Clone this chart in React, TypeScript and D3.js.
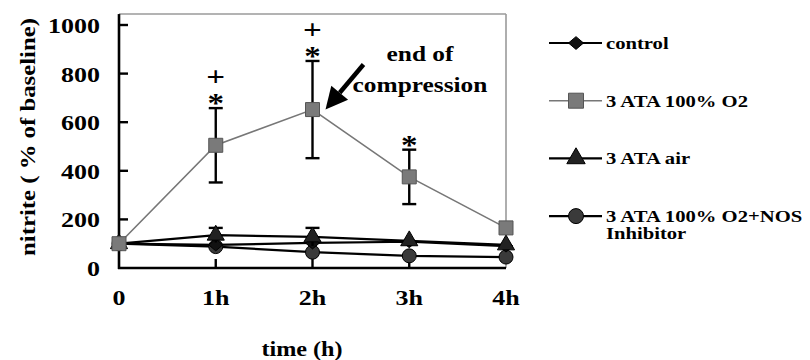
import React from "react";
import * as d3 from "d3";

// time points (hours) and their tick labels
const times = [0, 1, 2, 3, 4];
const timeLabels = ["0", "1h", "2h", "3h", "4h"];
const yTicks = [0, 200, 400, 600, 800, 1000];

// nitrite, % of baseline
const control = [100, 95, 103, 108, 90];
const o2 = [100, 505, 652, 375, 165];
const o2Err = [0, 153, 200, 112, 0];
const air = [100, 135, 128, 112, 95];
const airErr = [0, 30, 37, 0, 0];
const nos = [100, 88, 65, 50, 45];

const starTimes = [1, 2, 3];
const plusTimes = [1, 2];

const W = 810;
const H = 360;
const FONT = "'Liberation Serif', 'Times New Roman', serif";
const SX = 1.18; // the original type is set wide

type Shape = "diamond" | "square" | "triangle" | "circle";

function marker(shape: Shape, r: number) {
  if (shape === "diamond") return `M0,${-r * 0.85}L${r},0L0,${r * 0.85}L${-r},0Z`;
  if (shape === "square") return `M${-r},${-r}H${r}V${r}H${-r}Z`;
  if (shape === "triangle") return d3.symbol(d3.symbolTriangle, r * r * 2.6)() as string;
  return d3.symbol(d3.symbolCircle, Math.PI * r * r)() as string;
}

function Txt(props: { x: number; y: number; size: number; anchor?: string; rotate?: number; children: React.ReactNode }) {
  const { x, y, size, anchor = "start", rotate = 0, children } = props;
  return (
    <text
      transform={`translate(${x},${y}) rotate(${rotate}) scale(${SX},1)`}
      fontFamily={FONT}
      fontWeight="bold"
      fontSize={size}
      textAnchor={anchor}
      fill="#000"
    >
      {children}
    </text>
  );
}

export default function App() {
  const x = d3.scaleLinear().domain([0, 4]).range([119, 506]);
  const y = d3.scaleLinear().domain([0, 1000]).range([268, 25]);
  const top = y(1045);

  const line = d3
    .line<number>()
    .x((_, i) => x(times[i]))
    .y((d) => y(d));

  // drawing order: circles first, gray squares last (on top)
  const series = [
    { name: "3 ATA 100% O2+NOS", vals: nos, err: null as number[] | null, shape: "circle" as Shape, color: "#000", fill: "#3a3a3a", width: 2.2 },
    { name: "control", vals: control, err: null, shape: "diamond" as Shape, color: "#000", fill: "#111", width: 2.2 },
    { name: "3 ATA air", vals: air, err: airErr, shape: "triangle" as Shape, color: "#000", fill: "#222", width: 2.2 },
    { name: "3 ATA 100% O2", vals: o2, err: o2Err, shape: "square" as Shape, color: "#777", fill: "#7a7a7a", width: 1.6 },
  ];
  const legendOrder = [1, 3, 2, 0];

  const tip = { x: x(2) + 13, y: y(652) + 0 };
  const tail = { x: tip.x + 38, y: tip.y - 45 };
  const ang = Math.atan2(tip.y - tail.y, tip.x - tail.x);
  const headLen = 22;
  const headW = 11;
  const base = { x: tip.x - headLen * Math.cos(ang), y: tip.y - headLen * Math.sin(ang) };
  const nx = -Math.sin(ang);
  const ny = Math.cos(ang);

  return (
    <svg width={W} height={H} style={{ position: "absolute", left: 0, top: 0, background: "#fff" }}>
      {/* frame */}
      <line x1={x(0)} x2={x(4)} y1={top} y2={top} stroke="#9a9a9a" strokeWidth={1.6} />
      <line x1={x(4)} x2={x(4)} y1={top} y2={y(0)} stroke="#9a9a9a" strokeWidth={1.6} />
      <line x1={x(0)} x2={x(0)} y1={top} y2={y(0) + 1} stroke="#000" strokeWidth={2.6} />
      <line x1={x(0) - 1} x2={x(4)} y1={y(0)} y2={y(0)} stroke="#000" strokeWidth={2.6} />

      {yTicks.slice(1).map((t) => (
        <line key={t} x1={x(0)} x2={x(0) + 9} y1={y(t)} y2={y(t)} stroke="#000" strokeWidth={2.4} />
      ))}
      {times.slice(1, 4).map((t) => (
        <line key={t} x1={x(t)} x2={x(t)} y1={y(0)} y2={y(0) - 9} stroke="#000" strokeWidth={2.4} />
      ))}

      {yTicks.map((t) => (
        <Txt key={t} x={100} y={y(t) + 8} size={22} anchor="end">
          {t}
        </Txt>
      ))}
      {times.map((t, i) => (
        <Txt key={t} x={x(t)} y={305} size={22} anchor="middle">
          {timeLabels[i]}
        </Txt>
      ))}
      <Txt x={302} y={356} size={20.5} anchor="middle">time (h)</Txt>
      <Txt x={35} y={137} size={21} anchor="middle" rotate={-90}>nitrite ( % of baseline)</Txt>

      {/* series */}
      {series.map((s, k) => (
        <g key={k}>
          <path d={line(s.vals) as string} fill="none" stroke={s.color} strokeWidth={s.width} />
          {s.err &&
            s.vals.map((v, i) =>
              s.err![i] > 0 ? (
                <g key={i} stroke="#000" strokeWidth={2.4}>
                  <line x1={x(times[i])} x2={x(times[i])} y1={y(v - s.err![i])} y2={y(v + s.err![i])} />
                  <line x1={x(times[i]) - 7} x2={x(times[i]) + 7} y1={y(v + s.err![i])} y2={y(v + s.err![i])} />
                  {s.shape === "square" && (
                    <line x1={x(times[i]) - 7} x2={x(times[i]) + 7} y1={y(v - s.err![i])} y2={y(v - s.err![i])} />
                  )}
                </g>
              ) : null
            )}
          {s.vals.map((v, i) => (
            <path
              key={i}
              d={marker(s.shape, 7)}
              transform={`translate(${x(times[i])},${y(v)})`}
              fill={s.fill}
              stroke={s.shape === "square" ? "#555" : "#000"}
              strokeWidth={1}
            />
          ))}
        </g>
      ))}

      {/* significance marks */}
      {starTimes.map((t) => (
        <Txt key={t} x={x(t)} y={y(o2[t] + o2Err[t]) + 4} size={28} anchor="middle">*</Txt>
      ))}
      {plusTimes.map((t) => (
        <Txt key={t} x={x(t)} y={y(o2[t] + o2Err[t]) - 22} size={28} anchor="middle">+</Txt>
      ))}

      {/* annotation */}
      <line x1={tail.x} y1={tail.y} x2={base.x} y2={base.y} stroke="#000" strokeWidth={4.5} />
      <path
        d={`M${tip.x},${tip.y}L${base.x + nx * headW},${base.y + ny * headW}L${base.x - nx * headW},${base.y - ny * headW}Z`}
        fill="#000"
      />
      <Txt x={420} y={61} size={21.5} anchor="middle">end of</Txt>
      <Txt x={420} y={92} size={21.5} anchor="middle">compression</Txt>

      {/* legend */}
      {legendOrder.map((k, j) => {
        const s = series[k];
        const ly = 43 + j * 57.7;
        return (
          <g key={k}>
            <line x1={549} x2={602} y1={ly} y2={ly} stroke={s.color} strokeWidth={s.width} />
            <path
              d={marker(s.shape, 7.5)}
              transform={`translate(576,${ly})`}
              fill={s.fill}
              stroke={s.shape === "square" ? "#555" : "#000"}
              strokeWidth={1}
            />
            <Txt x={606} y={ly + 6} size={17.5}>{s.name}</Txt>
          </g>
        );
      })}
      <Txt x={606} y={43 + 3 * 57.7 + 23} size={17.5}>Inhibitor</Txt>
    </svg>
  );
}
